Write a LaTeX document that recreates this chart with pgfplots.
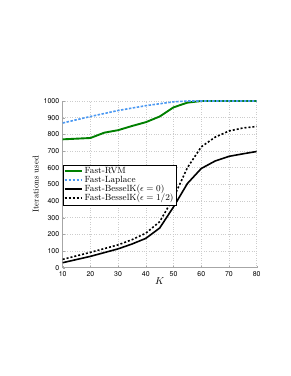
\documentclass[border=0pt]{standalone}
\usepackage{pgfplots}
\pgfplotsset{compat=1.18}
\usepackage{fontspec}
\newfontfamily\helv{TeX Gyre Heros}
\definecolor{rvmgreen}{rgb}{0,0.5,0}
\definecolor{lapblue}{rgb}{0.3,0.6,0.95}
\begin{document}
\begin{tikzpicture}
\path[use as bounding box] (0,0) rectangle (291bp,376bp);
\begin{axis}[
  at={(62.7bp,108.3bp)}, anchor=south west,
  width=194bp, height=166.7bp, scale only axis,
  xmin=10, xmax=80, ymin=0, ymax=1000,
  xtick={10,20,...,80}, ytick={0,100,...,1000},
  axis lines*=left,
  axis line style={gray!70, line width=0.8pt},
  tick style={gray!70},
  tick align=inside,
  major tick length=2pt,
  grid=major,
  grid style={dotted, gray!40, line width=0.5pt},
  tick label style={font=\helv\fontsize{7}{7}\selectfont},
  /pgf/number format/assume math mode=true,
  /pgf/number format/1000 sep={},
  xlabel={$K$}, ylabel={Iterations used},
  ylabel style={font=\fontsize{8.5}{9}\selectfont, yshift=-2pt},
  xlabel style={font=\fontsize{10}{10}\selectfont, yshift=5pt},
  legend style={at={(0.002,0.617)}, anchor=north west, font=\fontsize{9}{9}\selectfont,
    draw=black, inner sep=0.5pt, row sep=-3pt},
  legend cell align=left,
]
\addplot[rvmgreen, line width=1.9pt] coordinates {
(10,770) (20,778) (25,810) (30,825) (35,850) (40,873) (45,907) (50,962) (55,990) (60,1000) (65,1000) (70,1000) (75,1000) (80,1000)};
\addlegendentry{Fast-RVM}
\addplot[lapblue, line width=1.6pt, dash pattern=on 2.5pt off 1.5pt] coordinates {
(10,868) (20,907) (30,943) (40,972) (50,995) (55,1000) (60,1000) (65,1000) (70,1000) (75,1000) (80,1000)};
\addlegendentry{Fast-Laplace}
\addplot[black, line width=1.6pt] coordinates {
(10,30) (20,68) (30,113) (35,142) (40,176) (45,238) (50,365) (55,505) (60,595) (65,640) (70,668) (75,683) (80,697)};
\addlegendentry{Fast-BesselK($\epsilon=0$)}
\addplot[black, line width=1.6pt, dash pattern=on 2pt off 2pt] coordinates {
(10,50) (20,92) (30,137) (35,168) (40,207) (45,276) (50,420) (55,600) (60,725) (65,783) (70,820) (75,838) (80,847)};
\addlegendentry{Fast-BesselK($\epsilon=1/2$)}
\end{axis}
\end{tikzpicture}
\end{document}
